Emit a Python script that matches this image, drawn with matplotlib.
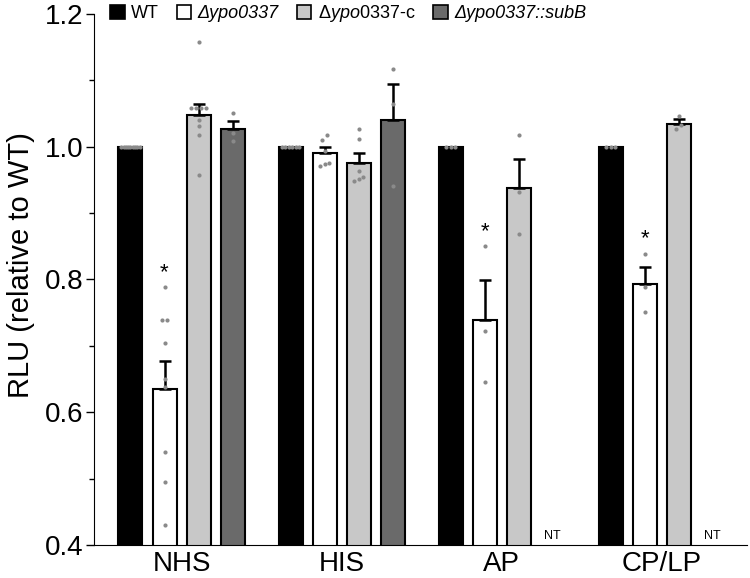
import numpy as np
import matplotlib
matplotlib.use('Agg')
import matplotlib.pyplot as plt
from matplotlib.patches import Patch
from matplotlib.ticker import MultipleLocator

plt.rcParams['font.family'] = ['Liberation Sans', 'DejaVu Sans']
plt.rcParams['mathtext.fontset'] = 'custom'
plt.rcParams['mathtext.it'] = 'Liberation Sans:italic'
plt.rcParams['mathtext.rm'] = 'Liberation Sans'

groups = ['NHS', 'HIS', 'AP', 'CP/LP']

# bar heights (mean) and upper SEM
wt_mean = [1.0, 1.0, 1.0, 1.0]
ko_mean = [0.635, 0.990, 0.739, 0.793]
comp_mean = [1.047, 0.975, 0.938, 1.034]
subb_mean = [1.026, 1.040, None, None]

ko_sem = [0.042, 0.009, 0.060, 0.026]
comp_sem = [0.018, 0.015, 0.044, 0.007]
subb_sem = [0.013, 0.054, None, None]

# individual replicates
wt_pts = [[1.0] * 9, [1.0] * 6, [1.0] * 3, [1.0] * 3]
ko_pts = [[0.789, 0.739, 0.739, 0.705, 0.650, 0.638, 0.540, 0.495, 0.430],
          [1.017, 1.010, 0.994, 0.975, 0.971, 0.974],
          [0.850, 0.723, 0.645],
          [0.839, 0.789, 0.751]]
comp_pts = [[1.158, 1.058, 1.058, 1.058, 1.058, 1.040, 1.031, 1.017, 0.957],
            [1.027, 1.011, 0.963, 0.955, 0.949, 0.951],
            [1.017, 0.932, 0.868],
            [1.046, 1.033, 1.026]]
subb_pts = [[1.050, 1.021, 1.009],
            [1.117, 1.065, 0.941],
            None, None]

signif = [[False, True, False, False],
          [False, False, False, False],
          [False, True, False, False],
          [False, True, False, False]]
not_tested = [[False, False, False, False],
              [False, False, False, False],
              [False, False, False, True],
              [False, False, False, True]]

colors = ['#000000', '#ffffff', '#c8c8c8', '#6a6a6a']
labels = ['WT', '\u0394ypo0337', r'$\mathit{\Delta ypo0337}$-c', '\u0394ypo0337::subB']

means = [wt_mean, ko_mean, comp_mean, subb_mean]
sems = [[None] * 4, ko_sem, comp_sem, subb_sem]
pts = [wt_pts, ko_pts, comp_pts, subb_pts]

step = 0.2125
width = 0.15


def swarm(vals, tol=0.007, gap=0.03, maxw=0.13):
    # spread points that sit at nearly the same height
    vals = np.array(vals)
    xs = np.zeros(len(vals))
    order = np.argsort(vals)
    clusters = []
    for i in order:
        if clusters and abs(vals[i] - vals[clusters[-1][-1]]) < tol:
            clusters[-1].append(i)
        else:
            clusters.append([i])
    for c in clusters:
        n = len(c)
        d = min(gap, maxw / max(n, 1))
        for k, i in enumerate(c):
            xs[i] = (k - (n - 1) / 2) * d
    return xs


fig = plt.figure(figsize=(7.5, 5.78), dpi=100)
ax = fig.add_axes([0.1253, 0.057, 0.8707, 0.919])

for j in range(4):
    for i in range(4):
        x = i + (j - 1.5) * step
        m = means[j][i]
        if m is None:
            if not_tested[i][j]:
                ax.text(x, 0.405, 'NT', ha='center', va='bottom', fontsize=9)
            continue
        ax.bar(x, m, width=width, color=colors[j], edgecolor='black',
               linewidth=1.5, zorder=2)
        s = sems[j][i]
        if s is not None:
            ax.errorbar(x, m, yerr=[[0], [s]], fmt='none', ecolor='black',
                        elinewidth=1.8, capsize=4.5, capthick=1.8, zorder=3)
        p = pts[j][i]
        if p is not None:
            ax.scatter(x + swarm(p), p, s=9, color='#8a8a8a', zorder=4,
                       linewidths=0)
            if signif[i][j]:
                ax.text(x, max(p) + 0.006, '*', ha='center', va='bottom',
                        fontsize=16)

ax.set_ylim(0.4, 1.2)
ax.set_xlim(-0.547, 3.534)
ax.set_xticks(range(4))
ax.set_xticklabels(groups, fontsize=20)
ax.tick_params(axis='x', length=0, pad=4)
ax.yaxis.set_major_locator(MultipleLocator(0.2))
ax.yaxis.set_minor_locator(MultipleLocator(0.1))
ax.set_yticklabels(['%.1f' % v for v in ax.get_yticks()], fontsize=20)
ax.tick_params(axis='y', which='major', length=5.5, width=1, pad=2)
ax.tick_params(axis='y', which='minor', length=3.5, width=1)
ax.set_ylabel('RLU (relative to WT)', fontsize=21)
ax.yaxis.set_label_coords(-0.09, 0.527)
ax.spines['top'].set_visible(False)
ax.spines['right'].set_visible(False)

handles = [Patch(facecolor=c, edgecolor='black', linewidth=1.2) for c in colors]
leg = fig.legend(handles, labels, loc='center left',
                 bbox_to_anchor=(0.147, 1 - 14 / 578), ncol=4, frameon=False,
                 fontsize=13, handlelength=0.8, handleheight=0.85,
                 handletextpad=0.35, columnspacing=1.0, borderpad=0,
                 borderaxespad=0)
for k, t in enumerate(leg.get_texts()):
    if k in (1, 3):
        t.set_fontstyle('italic')

fig.savefig('out.png', dpi=100)
